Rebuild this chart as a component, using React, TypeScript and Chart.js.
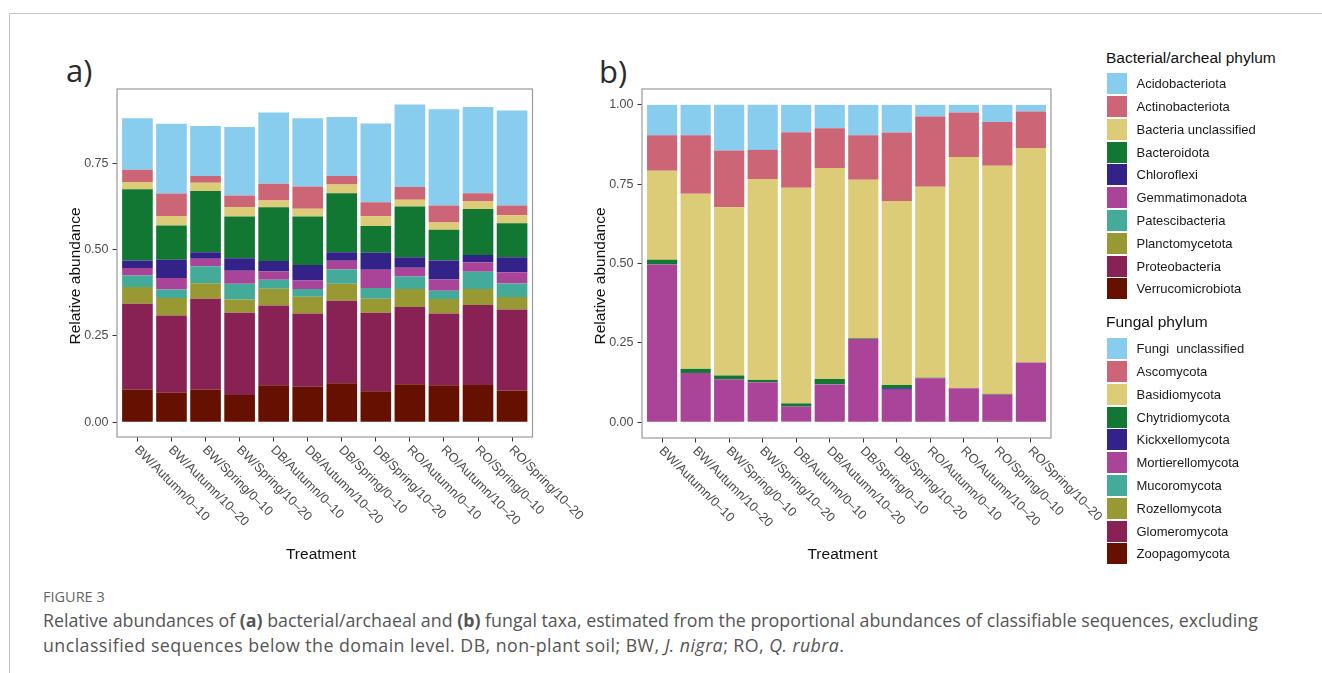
import { useEffect, useRef } from 'react';
import { Chart, registerables } from 'chart.js';

Chart.register(...registerables);

// Treatments: site / season / depth (cm)
const treatments = [
  'BW/Autumn/0–10', 'BW/Autumn/10–20', 'BW/Spring/0–10', 'BW/Spring/10–20',
  'DB/Autumn/0–10', 'DB/Autumn/10–20', 'DB/Spring/0–10', 'DB/Spring/10–20',
  'RO/Autumn/0–10', 'RO/Autumn/10–20', 'RO/Spring/0–10', 'RO/Spring/10–20',
];

// Bacterial/archaeal phyla, relative abundance per treatment
const acidobacteriota = [0.149, 0.202, 0.145, 0.199, 0.207, 0.198, 0.171, 0.228, 0.239, 0.279, 0.250, 0.276];
const actinobacteriota = [0.036, 0.065, 0.020, 0.033, 0.048, 0.064, 0.025, 0.041, 0.037, 0.049, 0.023, 0.028];
const bacteriaUnclassified = [0.021, 0.028, 0.024, 0.028, 0.020, 0.023, 0.025, 0.028, 0.020, 0.021, 0.023, 0.023];
const bacteroidota = [0.206, 0.099, 0.177, 0.121, 0.156, 0.140, 0.171, 0.078, 0.147, 0.089, 0.133, 0.099];
const chloroflexi = [0.022, 0.053, 0.019, 0.036, 0.030, 0.045, 0.025, 0.049, 0.030, 0.055, 0.021, 0.043];
const gemmatimonadota = [0.022, 0.033, 0.022, 0.038, 0.024, 0.025, 0.025, 0.053, 0.026, 0.033, 0.028, 0.033];
const patescibacteria = [0.033, 0.025, 0.049, 0.045, 0.026, 0.022, 0.042, 0.031, 0.036, 0.024, 0.050, 0.039];
const planctomycetota = [0.049, 0.051, 0.045, 0.039, 0.049, 0.049, 0.049, 0.041, 0.052, 0.042, 0.046, 0.036];
const proteobacteria = [0.248, 0.224, 0.263, 0.238, 0.231, 0.212, 0.239, 0.227, 0.224, 0.208, 0.232, 0.235];
const verrucomicrobiota = [0.095, 0.085, 0.095, 0.079, 0.107, 0.103, 0.113, 0.090, 0.110, 0.107, 0.108, 0.092];

// Fungal phyla, relative abundance per treatment
const fungiUnclassified = [0.096, 0.096, 0.144, 0.142, 0.086, 0.074, 0.096, 0.087, 0.037, 0.024, 0.054, 0.021];
const ascomycota = [0.112, 0.184, 0.179, 0.092, 0.175, 0.125, 0.140, 0.216, 0.221, 0.140, 0.138, 0.115];
const basidiomycota = [0.280, 0.552, 0.530, 0.633, 0.680, 0.665, 0.500, 0.580, 0.602, 0.729, 0.719, 0.676];
const chytridiomycota = [0.015, 0.013, 0.012, 0.007, 0.010, 0.017, 0.002, 0.010, 0.002, 0, 0.002, 0];
const kickxellomycota = [0, 0, 0, 0, 0, 0, 0, 0.005, 0, 0, 0, 0];
const mortierellomycota = [0.497, 0.155, 0.135, 0.123, 0.049, 0.119, 0.262, 0.102, 0.138, 0.107, 0.083, 0.188];
const mucoromycota = [0, 0, 0, 0, 0, 0, 0, 0, 0, 0, 0, 0];
const rozellomycota = [0, 0, 0, 0, 0, 0, 0, 0, 0, 0, 0, 0];
const glomeromycota = [0, 0, 0, 0.003, 0, 0, 0, 0, 0, 0, 0.004, 0];
const zoopagomycota = [0, 0, 0, 0, 0, 0, 0, 0, 0, 0, 0, 0];

const bacterialTicks = [0, 0.25, 0.5, 0.75];
const fungalTicks = [0, 0.25, 0.5, 0.75, 1];

// Muted qualitative palette shared by both legends
const palette = ['#88CCEE', '#CC6677', '#DDCC77', '#117733', '#332288', '#AA4499', '#44AA99', '#999933', '#882255', '#661100'];

type Series = { label: string; values: number[] };

// Listed in legend order (top of the stack first)
const bacterialSeries: Series[] = [
  { label: 'Acidobacteriota', values: acidobacteriota },
  { label: 'Actinobacteriota', values: actinobacteriota },
  { label: 'Bacteria unclassified', values: bacteriaUnclassified },
  { label: 'Bacteroidota', values: bacteroidota },
  { label: 'Chloroflexi', values: chloroflexi },
  { label: 'Gemmatimonadota', values: gemmatimonadota },
  { label: 'Patescibacteria', values: patescibacteria },
  { label: 'Planctomycetota', values: planctomycetota },
  { label: 'Proteobacteria', values: proteobacteria },
  { label: 'Verrucomicrobiota', values: verrucomicrobiota },
];

const fungalSeries: Series[] = [
  { label: 'Fungi  unclassified', values: fungiUnclassified },
  { label: 'Ascomycota', values: ascomycota },
  { label: 'Basidiomycota', values: basidiomycota },
  { label: 'Chytridiomycota', values: chytridiomycota },
  { label: 'Kickxellomycota', values: kickxellomycota },
  { label: 'Mortierellomycota', values: mortierellomycota },
  { label: 'Mucoromycota', values: mucoromycota },
  { label: 'Rozellomycota', values: rozellomycota },
  { label: 'Glomeromycota', values: glomeromycota },
  { label: 'Zoopagomycota', values: zoopagomycota },
];

const SANS = '"Liberation Sans", Arial, Helvetica, sans-serif';

type PanelProps = {
  series: Series[];
  yMin: number;
  yMax: number;
  yTicks: number[];
  box: { left: number; top: number; width: number; height: number };
  area: { left: number; top: number; right: number; bottom: number };
  yTitleAt: { x: number; y: number };
  xTitleAt: { x: number; y: number };
};

function StackedPanel({ series, yMin, yMax, yTicks, box, area, yTitleAt, xTitleAt }: PanelProps) {
  const ref = useRef<HTMLCanvasElement | null>(null);

  useEffect(() => {
    const canvas = ref.current;
    if (!canvas) return;

    // bottom of the stack first
    const datasets = series
      .map((s, k) => ({
        label: s.label,
        data: s.values.map((v, i) => ({ x: i, y: v })),
        backgroundColor: palette[k],
        borderWidth: 0,
        barPercentage: 0.9,
        categoryPercentage: 1,
      }))
      .reverse();

    const decor = {
      id: 'panelDecor',
      afterDraw(chart: any) {
        const { ctx, chartArea: a, scales } = chart;
        ctx.save();
        ctx.strokeStyle = '#9a9a9a';
        ctx.lineWidth = 1.2;
        ctx.strokeRect(a.left, a.top, a.right - a.left, a.bottom - a.top);

        ctx.fillStyle = '#4d4d4d';
        ctx.font = `12.8px ${SANS}`;
        ctx.textAlign = 'left';
        ctx.textBaseline = 'middle';
        treatments.forEach((t, i) => {
          const x = scales.x.getPixelForValue(i);
          ctx.save();
          ctx.translate(x - 1, a.bottom + 11);
          ctx.rotate(Math.PI / 4);
          ctx.fillText(t, 0, 0);
          ctx.restore();
        });

        ctx.fillStyle = '#111';
        ctx.font = `15.5px ${SANS}`;
        ctx.textAlign = 'center';
        ctx.textBaseline = 'middle';
        ctx.fillText('Treatment', xTitleAt.x - box.left, xTitleAt.y - box.top);
        ctx.save();
        ctx.translate(yTitleAt.x - box.left, yTitleAt.y - box.top);
        ctx.rotate(-Math.PI / 2);
        ctx.fillText('Relative abundance', 0, 0);
        ctx.restore();
        ctx.restore();
      },
    };

    const chart = new Chart(canvas, {
      type: 'bar',
      data: { datasets },
      options: {
        responsive: false,
        animation: false,
        events: [],
        layout: {
          autoPadding: false,
          padding: { left: 0, top: area.top - box.top, right: box.left + box.width - area.right, bottom: 0 },
        },
        plugins: { legend: { display: false }, tooltip: { enabled: false } },
        scales: {
          x: {
            type: 'linear',
            stacked: true,
            offset: false,
            min: -0.6,
            max: treatments.length - 1 + 0.6,
            afterBuildTicks: (s: any) => {
              s.ticks = treatments.map((_, i) => ({ value: i }));
            },
            afterFit: (s: any) => {
              s.height = box.top + box.height - area.bottom;
            },
            ticks: { display: false },
            grid: { offset: false, drawOnChartArea: false, drawTicks: true, tickLength: 4.5, tickColor: '#333', tickWidth: 1 },
            border: { display: false },
          },
          y: {
            type: 'linear',
            stacked: true,
            min: yMin,
            max: yMax,
            afterBuildTicks: (s: any) => {
              s.ticks = yTicks.map((v) => ({ value: v }));
            },
            afterFit: (s: any) => {
              s.width = area.left - box.left;
            },
            ticks: {
              padding: 4,
              color: '#4d4d4d',
              font: { size: 12.5, family: SANS },
              callback: (v: any) => Number(v).toFixed(2),
            },
            grid: { drawOnChartArea: false, drawTicks: true, tickLength: 4.5, tickColor: '#333', tickWidth: 1 },
            border: { display: false },
          },
        },
      },
      plugins: [decor],
    } as any);

    return () => chart.destroy();
  }, [series, yMin, yMax, yTicks, box, area, yTitleAt, xTitleAt]);

  return (
    <canvas
      ref={ref}
      width={box.width}
      height={box.height}
      style={{ position: 'absolute', left: box.left, top: box.top, width: box.width, height: box.height }}
    />
  );
}

function Legend({ title, series, titleTop, firstCenter }: { title: string; series: Series[]; titleTop: number; firstCenter: number }) {
  const step = 22.8;
  return (
    <>
      <div style={{ position: 'absolute', left: 1106, top: titleTop, fontFamily: SANS, fontSize: 15.5, lineHeight: '16px', color: '#111', whiteSpace: 'pre' }}>
        {title}
      </div>
      {series.map((s, k) => (
        <div
          key={s.label}
          style={{
            position: 'absolute',
            left: 1106.5,
            top: firstCenter + k * step - step / 2,
            height: step,
            display: 'flex',
            alignItems: 'center',
            fontFamily: SANS,
            fontSize: 13,
            color: '#1a1a1a',
            whiteSpace: 'pre',
          }}
        >
          <div style={{ width: 20.5, height: 21, background: palette[k], marginRight: 9.5 }} />
          <span>{s.label}</span>
        </div>
      ))}
    </>
  );
}

const boxA = { left: 20, top: 40, width: 620, height: 540 };
const areaA = { left: 117, top: 89, right: 532.5, bottom: 437 };
const boxB = { left: 560, top: 40, width: 545, height: 540 };
const areaB = { left: 642, top: 89, right: 1051, bottom: 438 };

export default function App() {
  return (
    <div style={{ position: 'absolute', left: 0, top: 0, width: 1322, height: 673, background: '#fff', overflow: 'hidden' }}>
      <div style={{ position: 'absolute', left: 9, top: 13, width: 1320, height: 670, borderTop: '1.5px solid #c6c6c6', borderLeft: '1.5px solid #c6c6c6' }} />

      <div style={{ position: 'absolute', left: 66, top: 50, fontFamily: '"Open Sans", sans-serif', fontSize: 31, lineHeight: '40px', color: '#2b2b2b' }}>a)</div>
      <div style={{ position: 'absolute', left: 599, top: 51, fontFamily: '"Open Sans", sans-serif', fontSize: 31, lineHeight: '40px', color: '#2b2b2b' }}>b)</div>

      <StackedPanel
        series={bacterialSeries}
        yMin={-0.043}
        yMax={0.966}
        yTicks={bacterialTicks}
        box={boxA}
        area={areaA}
        yTitleAt={{ x: 75.5, y: 276 }}
        xTitleAt={{ x: 321, y: 555 }}
      />
      <StackedPanel
        series={fungalSeries}
        yMin={-0.05}
        yMax={1.05}
        yTicks={fungalTicks}
        box={boxB}
        area={areaB}
        yTitleAt={{ x: 600.5, y: 276 }}
        xTitleAt={{ x: 842.5, y: 555 }}
      />

      <Legend title="Bacterial/archeal phylum" series={bacterialSeries} titleTop={50} firstCenter={83.8} />
      <Legend title="Fungal phylum" series={fungalSeries} titleTop={313.5} firstCenter={348.7} />

      <div style={{ position: 'absolute', left: 43, top: 589, fontFamily: '"Open Sans", sans-serif', fontSize: 14.5, lineHeight: '16px', color: '#666' }}>
        FIGURE 3
      </div>
      <div style={{ position: 'absolute', left: 43, top: 607.5, fontFamily: '"Open Sans", sans-serif', fontSize: 17.8, lineHeight: '25px', color: '#555', whiteSpace: 'nowrap' }}>
        Relative abundances of <b>(a)</b> bacterial/archaeal and <b>(b)</b> fungal taxa, estimated from the proportional abundances of classifiable sequences, excluding
        <br />
        <span style={{ letterSpacing: 0.45 }}>
          unclassified sequences below the domain level. DB, non-plant soil; BW, <i>J. nigra</i>; RO, <i>Q. rubra</i>.
        </span>
      </div>
    </div>
  );
}
